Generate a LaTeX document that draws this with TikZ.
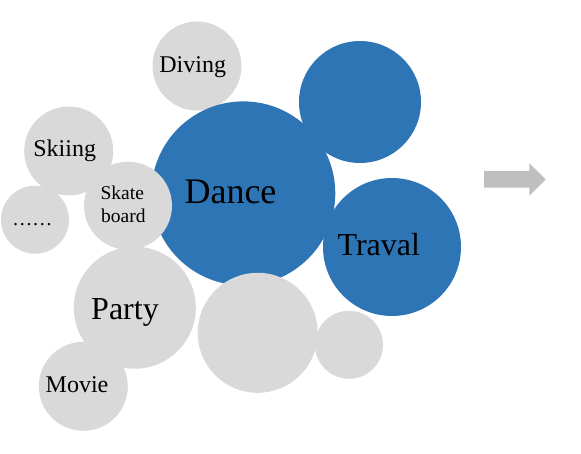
\documentclass[tikz,border=0pt]{standalone}
\usepackage{fontspec}
\setmainfont{Liberation Serif}
\definecolor{bblue}{HTML}{2E75B6}
\definecolor{bgray}{HTML}{D9D9D9}
\definecolor{agray}{HTML}{BFBFBF}
\tikzset{
  bub/.style={circle, draw=none, inner sep=0pt, minimum size=#1},
  gbub/.style={bub=#1, fill=bgray},
  bbub/.style={bub=#1, fill=bblue},
  lab/.style={anchor=base, inner sep=0pt, text=black}
}
\begin{document}
\begin{tikzpicture}[x=1pt, y=-1pt]
\useasboundingbox (0,0) rectangle (581,454);
% bubbles
\node[gbub=89pt] (diving) at (197,66) {};
\node[gbub=89pt] (skiing) at (68.7,151) {};
\node[bbub=122pt] (topblue) at (360,102) {};
\node[bbub=138pt] (traval) at (392,247) {};
\node[bbub=184pt] (dance) at (243.3,193.4) {};
\node[gbub=68pt] (dots) at (35,219.7) {};
\node[gbub=88pt] (skate) at (128,205.7) {};
\node[gbub=122pt] (party) at (134.8,307.7) {};
\node[gbub=89pt] (movie) at (83.3,386.3) {};
\node[gbub=120pt] (biggray) at (257.7,332.8) {};
\node[gbub=68pt] (smallgray) at (349,344.8) {};
% labels
\node[lab, font=\fontsize{24}{28}\selectfont] (tdiving) at (192.7,72.7) {Diving};
\node[lab, font=\fontsize{24}{28}\selectfont] (tskiing) at (64.7,156.7) {Skiing};
\node[lab, font=\fontsize{19.5}{23}\selectfont] (tskate) at (122.3,200) {Skate};
\node[lab, font=\fontsize{19.5}{23}\selectfont] (tboard) at (123.3,222.7) {board};
\node[lab, font=\fontsize{20}{24}\selectfont] (tdots) at (32.3,226) {……};
\node[lab, font=\fontsize{36}{40}\selectfont] (tdance) at (230.5,204) {Dance};
\node[lab, font=\fontsize{32}{36}\selectfont] (ttraval) at (378.8,256) {Traval};
\node[lab, font=\fontsize{32}{36}\selectfont] (tparty) at (125,319.3) {Party};
\node[lab, font=\fontsize{24}{28}\selectfont] (tmovie) at (77,392.3) {Movie};
% arrow
\fill[agray] (484,171) -- (529.3,171) -- (529.3,163.3) -- (545.7,179.3)
  -- (529.3,195.7) -- (529.3,187.7) -- (484,187.7) -- cycle;
\end{tikzpicture}
\end{document}
